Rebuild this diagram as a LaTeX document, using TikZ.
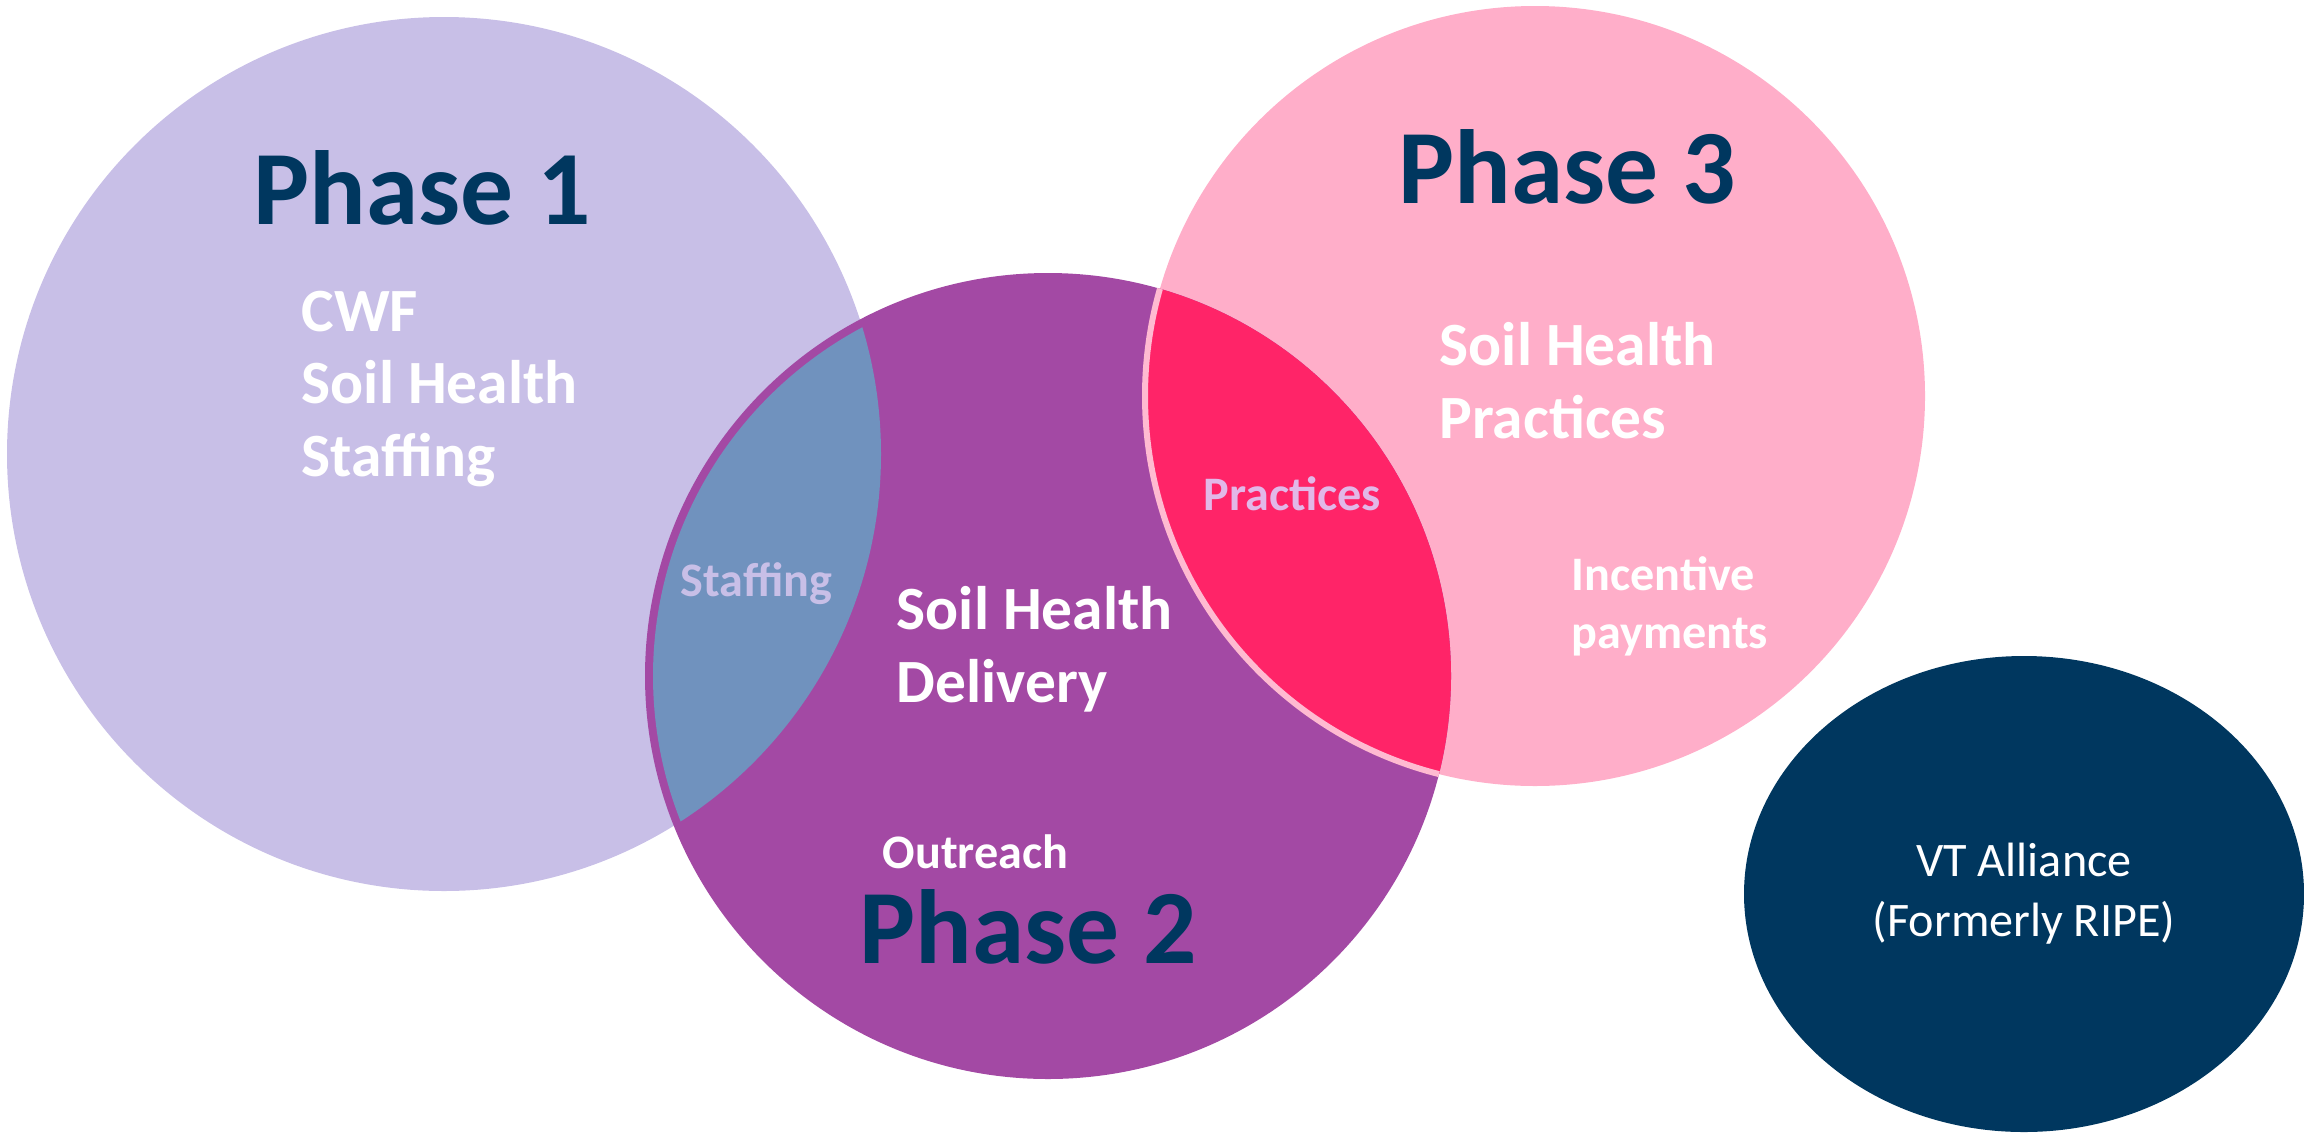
\documentclass[tikz,border=0pt]{standalone}
\usepackage{fontspec}
\setmainfont{Carlito}
\usetikzlibrary{shapes.geometric}

\definecolor{lavender}{HTML}{C8BFE7}
\definecolor{plum}{HTML}{A349A4}
\definecolor{rosepink}{HTML}{FFAEC9}
\definecolor{steelblue}{HTML}{7092BE}
\definecolor{hotpink}{HTML}{FF2468}
\definecolor{navy}{HTML}{00375F}
\definecolor{paletext}{HTML}{E2B8E8}

\begin{document}
\begin{tikzpicture}[
    phasetitle/.style={text=navy, font=\bfseries\fontsize{30}{36}\selectfont, inner sep=0pt, anchor=base},
    bigtext/.style={text=white, font=\bfseries\fontsize{17.5}{20.5}\selectfont, align=left, inner sep=0pt, anchor=base west},
    smalltext/.style={font=\bfseries\fontsize{13.7}{16.5}\selectfont, align=left, inner sep=0pt, anchor=base west}
  ]
    \useasboundingbox (0,0) rectangle (23.04,11.33);

    % Circle centres
    \coordinate (p1) at (4.44,6.79);
    \coordinate (p2) at (10.48,4.57);
    \coordinate (p3) at (15.35,7.37);

    % Phase circles
    \fill[lavender] (p1) circle (4.37);
    \fill[rosepink] (p3) circle (3.90);
    \fill[plum] (p2) circle (4.03);

    % Phase 1 and Phase 2 overlap
    \begin{scope}
      \clip (p1) circle (4.37);
      \fill[steelblue] (p2) circle (3.95);
    \end{scope}

    % Phase 2 and Phase 3 overlap
    \begin{scope}
      \clip (p2) circle (4.03);
      \fill[hotpink] (p3) circle (3.90);
      \draw[rosepink!85!white, line width=0.6mm] (p3) circle (3.90);
    \end{scope}

    % Titles
    \node[phasetitle] (title1) at (4.22,9.09) {Phase 1};
    \node[phasetitle] (title2) at (10.28,1.70) {Phase 2};
    \node[phasetitle] (title3) at (15.67,9.30) {Phase 3};

    % Contents (anchored at the last line)
    \node[bigtext] (cwf) at (3.01,6.57) {CWF\\Soil Health\\Staffing};
    \node[bigtext] (delivery) at (8.96,4.31) {Soil Health\\Delivery};
    \node[bigtext] (practices) at (14.39,6.95) {Soil Health\\Practices};
    \node[smalltext, text=lavender] (staffing) at (6.80,5.37) {Staffing};
    \node[smalltext, text=paletext] (shared) at (12.03,6.23) {Practices};
    \node[smalltext, text=white] (incentive) at (15.71,4.85) {Incentive\\payments};
    \node[smalltext, text=white] (outreach) at (8.82,2.65) {Outreach};

    % VT Alliance
    \node[ellipse, fill=navy, minimum width=5.6cm, minimum height=4.76cm, inner sep=0pt,
          text=white, align=center, font=\fontsize{13.7}{17}\selectfont] (vt) at (20.24,2.39)
          {VT Alliance\\(Formerly RIPE)};
\end{tikzpicture}
\end{document}
